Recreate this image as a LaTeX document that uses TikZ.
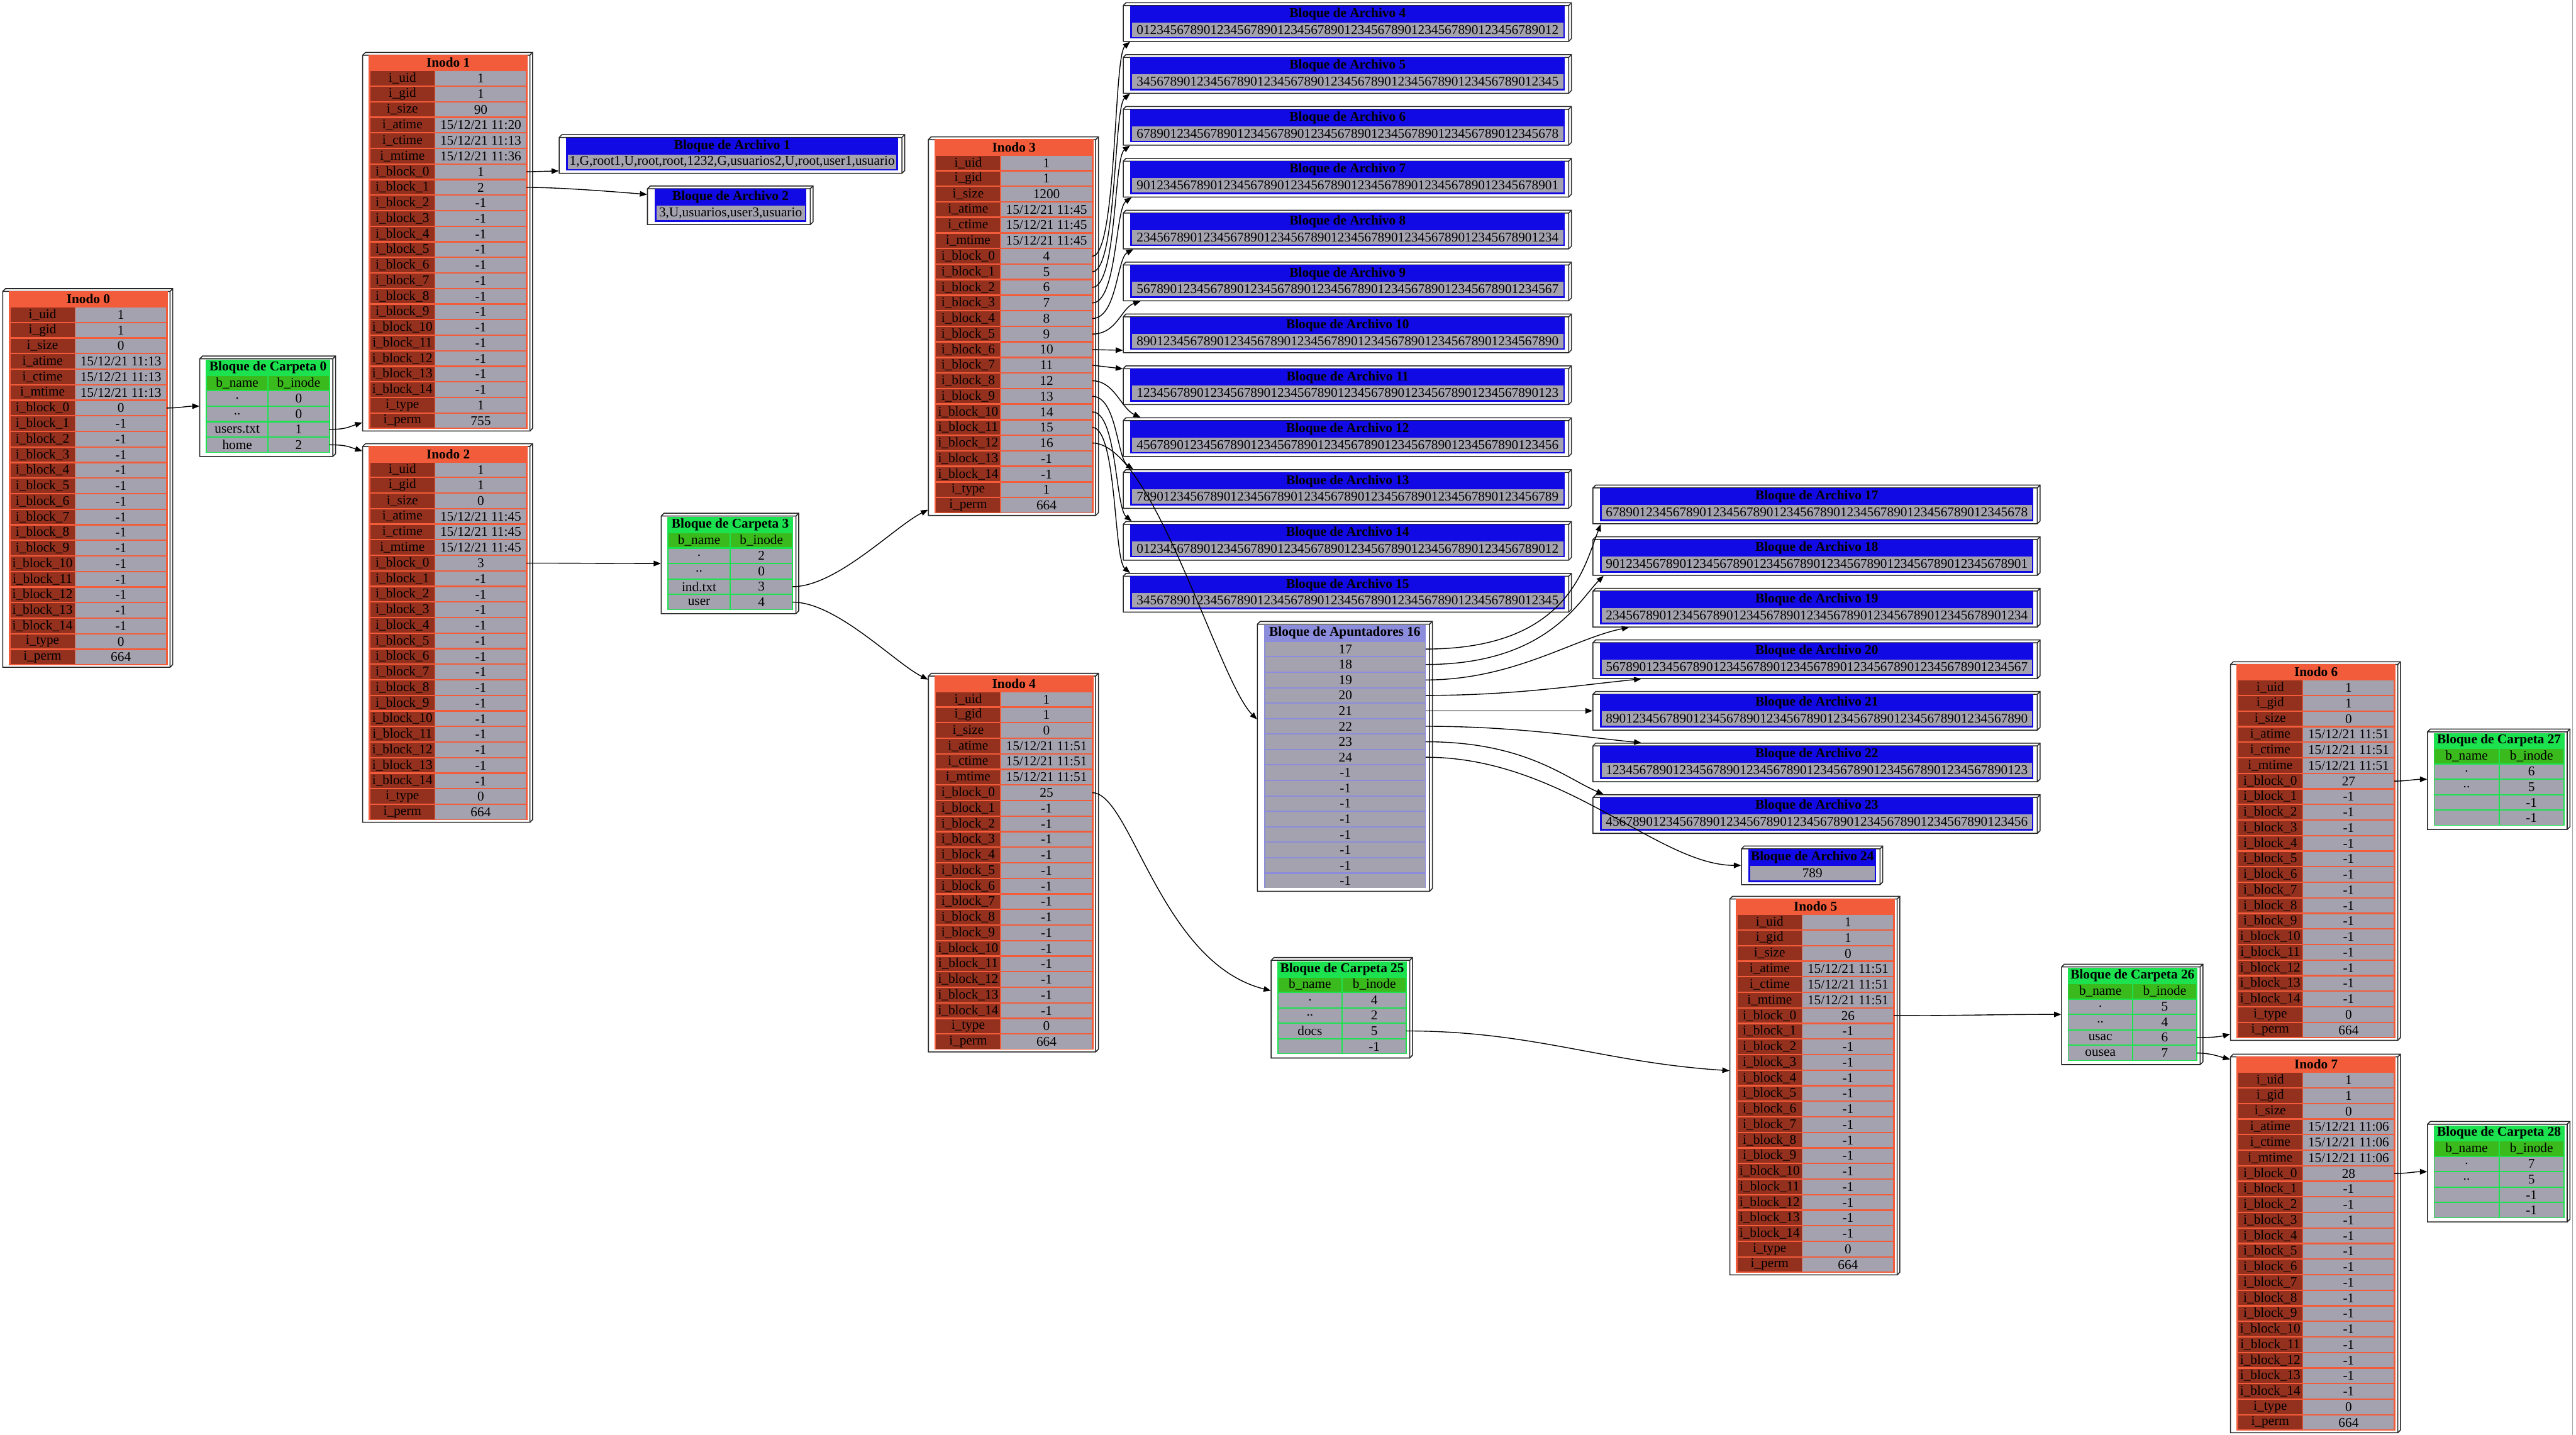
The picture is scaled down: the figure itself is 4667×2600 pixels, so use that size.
\documentclass[tikz,border=0pt]{standalone}
\usepackage{fontspec}
\setmainfont{Liberation Serif}
\usetikzlibrary{arrows.meta}
\definecolor{inor}{RGB}{242,92,58}
\definecolor{inkey}{RGB}{148,48,30}
\definecolor{cgray}{RGB}{164,162,174}
\definecolor{fgreen}{RGB}{28,226,80}
\definecolor{fhead}{RGB}{58,186,28}
\definecolor{ablue}{RGB}{18,10,228}
\definecolor{pblue}{RGB}{140,140,220}
\newcommand\tnd{0123456789}
\newcommand\dstr[1]{\ifcase#1\relax \tnd\tnd\tnd\tnd\tnd\tnd 012\or 123456789\tnd\tnd\tnd\tnd\tnd 0123\or 23456789\tnd\tnd\tnd\tnd\tnd 01234\or 3456789\tnd\tnd\tnd\tnd\tnd 012345\or 456789\tnd\tnd\tnd\tnd\tnd 0123456\or 56789\tnd\tnd\tnd\tnd\tnd 01234567\or 6789\tnd\tnd\tnd\tnd\tnd 012345678\or 789\tnd\tnd\tnd\tnd\tnd\tnd\or 89\tnd\tnd\tnd\tnd\tnd\tnd 0\or 9\tnd\tnd\tnd\tnd\tnd\tnd 01\fi}
\newcommand\inokey[1]{\ifcase#1\or i\_uid\or i\_gid\or i\_size\or i\_atime\or i\_ctime\or i\_mtime\or i\_block\_0\or i\_block\_1\or i\_block\_2\or i\_block\_3\or i\_block\_4\or i\_block\_5\or i\_block\_6\or i\_block\_7\or i\_block\_8\or i\_block\_9\or i\_block\_10\or i\_block\_11\or i\_block\_12\or i\_block\_13\or i\_block\_14\or i\_type\or i\_perm\fi}
\tikzset{
 ttl/.style={font=\fontsize{6.9}{8}\selectfont\bfseries, inner sep=0pt},
 cell/.style={draw=none, inner sep=0pt, font=\fontsize{6.9}{8}\selectfont},
 boxst/.style={draw=black!85, line width=0.5pt},
 conn/.style={draw=black, line width=0.45pt, -{Triangle[length=0.13cm,width=0.1cm]}},
}
\newcommand\threedbox[5]{%
 \node[inner sep=0pt, minimum width={(#3)*0.01cm}, minimum height={(#4)*0.01cm}] (#5) at ({#1+(#3)/2},{#2+(#4)/2}) {};
 \filldraw[boxst, fill=white] ({#1},{#2+5}) -- ({#1+5},{#2}) -- ({#1+#3},{#2}) -- ({#1+#3},{#2+#4-5}) -- ({#1+#3-5},{#2+#4}) -- ({#1},{#2+#4}) -- cycle;
 \draw[boxst] ({#1},{#2+5}) -- ({#1+#3-5},{#2+5}) -- ({#1+#3-5},{#2+#4}) ({#1+#3-5},{#2+5}) -- ({#1+#3},{#2});
}
\newcommand\drawinode[5]{%
 \threedbox{#2}{#3}{308}{686}{#1}
 \fill[inor] ({#2+11},{#3+4}) rectangle ({#2+299},{#3+682});
 \node[ttl] (#1-t) at ({#2+155},{#3+18.5}) {#4};
 \foreach \vv [count=\ii] in {#5} {
   \node[cell, fill=inkey, minimum width=1.16cm, minimum height=0.256cm] (#1-k\ii) at ({#2+72},{#3+47.1+28.2*(\ii-1)}) {\inokey{\ii}};
   \node[cell, fill=cgray, minimum width=1.64cm, minimum height=0.256cm] (#1-v\ii) at ({#2+214},{#3+47.1+28.2*(\ii-1)}) {\vv};
 }
}
\newcommand\drawfolder[6]{%
 \threedbox{#2}{#3}{#4}{182}{#1}
 \fill[fgreen] ({#2+11},{#3+7}) rectangle ({#2+#4-10},{#3+175});
 \node[ttl] (#1-t) at ({#2+#4/2+0.5},{#3+21}) {#5};
 \pgfmathsetmacro\fc{(#4-27)/2}
 \node[cell, fill=fhead, minimum width={\fc*0.01cm}, minimum height=0.256cm] (#1-hn) at ({#2+13+\fc/2},{#3+49}) {b\_name};
 \node[cell, fill=fhead, minimum width={\fc*0.01cm}, minimum height=0.256cm] (#1-hi) at ({#2+15+1.5*\fc},{#3+49}) {b\_inode};
 \foreach \nn/\vv [count=\ii] in {#6} {
   \node[cell, fill=cgray, minimum width={\fc*0.01cm}, minimum height=0.256cm] (#1-n\ii) at ({#2+13+\fc/2},{#3+49+28*\ii}) {\nn};
   \node[cell, fill=cgray, minimum width={\fc*0.01cm}, minimum height=0.256cm] (#1-r\ii) at ({#2+15+1.5*\fc},{#3+49+28*\ii}) {\vv};
 }
}
\newcommand\drawarch[6]{%
 \threedbox{#2}{#3}{#4}{70}{#1}
 \fill[ablue] ({#2+13},{#3+5}) rectangle ({#2+#4-12},{#3+65});
 \node[ttl] (#1-t) at ({#2+#4/2+0.5},{#3+20.5}) {#5};
 \node[cell, fill=cgray, minimum width={(#4-31)*0.01cm}, minimum height=0.26cm] (#1-d) at ({#2+#4/2+0.5},{#3+49}) {#6};
}
\begin{document}
\begin{tikzpicture}[x=0.01cm,y=-0.01cm]
\useasboundingbox (0,0) rectangle (4667,2600);
\fill[white] (0,0) rectangle (4667,2600);
\draw[black!35, line width=0.4pt] (4661,0) -- (4661,2600);

% Inodes
\drawinode{I0}{5}{523}{Inodo 0}{1,1,0,15/12/21 11:13,15/12/21 11:13,15/12/21 11:13,0,-1,-1,-1,-1,-1,-1,-1,-1,-1,-1,-1,-1,-1,-1,0,664}
\drawinode{I1}{657}{95}{Inodo 1}{1,1,90,15/12/21 11:20,15/12/21 11:13,15/12/21 11:36,1,2,-1,-1,-1,-1,-1,-1,-1,-1,-1,-1,-1,-1,-1,1,755}
\drawinode{I2}{657}{804}{Inodo 2}{1,1,0,15/12/21 11:45,15/12/21 11:45,15/12/21 11:45,3,-1,-1,-1,-1,-1,-1,-1,-1,-1,-1,-1,-1,-1,-1,0,664}
\drawinode{I3}{1682}{248}{Inodo 3}{1,1,1200,15/12/21 11:45,15/12/21 11:45,15/12/21 11:45,4,5,6,7,8,9,10,11,12,13,14,15,16,-1,-1,1,664}
\drawinode{I4}{1682}{1220}{Inodo 4}{1,1,0,15/12/21 11:51,15/12/21 11:51,15/12/21 11:51,25,-1,-1,-1,-1,-1,-1,-1,-1,-1,-1,-1,-1,-1,-1,0,664}
\drawinode{I5}{3134}{1624}{Inodo 5}{1,1,0,15/12/21 11:51,15/12/21 11:51,15/12/21 11:51,26,-1,-1,-1,-1,-1,-1,-1,-1,-1,-1,-1,-1,-1,-1,0,664}
\drawinode{I6}{4041}{1199}{Inodo 6}{1,1,0,15/12/21 11:51,15/12/21 11:51,15/12/21 11:51,27,-1,-1,-1,-1,-1,-1,-1,-1,-1,-1,-1,-1,-1,-1,0,664}
\drawinode{I7}{4041}{1910}{Inodo 7}{1,1,0,15/12/21 11:06,15/12/21 11:06,15/12/21 11:06,28,-1,-1,-1,-1,-1,-1,-1,-1,-1,-1,-1,-1,-1,-1,0,664}

% Folder blocks
\drawfolder{C0}{362}{645}{246}{Bloque de Carpeta 0}{./0,../0,users.txt/1,home/2}
\drawfolder{C3}{1198}{930}{249}{Bloque de Carpeta 3}{./2,../0,ind.txt/3,user/4}
\drawfolder{C25}{2303}{1735}{256}{Bloque de Carpeta 25}{./4,../2,docs/5,/-1}
\drawfolder{C26}{3735}{1747}{256}{Bloque de Carpeta 26}{./5,../4,usac/6,ousea/7}
\drawfolder{C27}{4398}{1321}{258}{Bloque de Carpeta 27}{./6,../5,/-1,/-1}
\drawfolder{C28}{4398}{2032}{258}{Bloque de Carpeta 28}{./7,../5,/-1,/-1}

% File blocks
\drawarch{A1}{1013}{244}{626}{Bloque de Archivo 1}{1,G,root1,U,root,root,1232,G,usuarios2,U,root,user1,usuario}
\drawarch{A2}{1173}{337}{300}{Bloque de Archivo 2}{3,U,usuarios,user3,usuario}
\foreach \k/\s in {4/0,5/3,6/6,7/9,8/2,9/5,10/8,11/1,12/4,13/7,14/0,15/3} {
  \drawarch{A\k}{2035}{5+94*(\k-4)}{812}{Bloque de Archivo \k}{\dstr{\s}}
}
\foreach \k/\s in {17/6,18/9,19/2,20/5,21/8,22/1,23/4} {
  \drawarch{A\k}{2886}{879+93.5*(\k-17)}{810}{Bloque de Archivo \k}{\dstr{\s}}
}
\drawarch{A24}{3155}{1533}{256}{Bloque de Archivo 24}{789}

% Pointer block
\threedbox{2278}{1126}{317}{489}{P16}
\fill[pblue] (2290,1132) rectangle (2583,1609);
\node[ttl] (P16-t) at (2436.5,1147) {Bloque de Apuntadores 16};
\foreach \vv [count=\ii] in {17,18,19,20,21,22,23,24,-1,-1,-1,-1,-1,-1,-1,-1} {
  \node[cell, fill=cgray, minimum width=2.89cm, minimum height=0.256cm] (P16-r\ii) at (2437.5,{1148+28*\ii}) {\vv};
}

% Connectors
\draw[conn] (I0-v7.east) to[out=0,in=180] (C0.west);
\draw[conn] (C0-r3.east) .. controls +(30,0) and +(-25,8) .. ([yshift=0.16cm]I1.south west);
\draw[conn] (C0-r4.east) .. controls +(30,0) and +(-25,-8) .. ([yshift=-0.14cm]I2.north west);
\draw[conn] (I1-v7.east) -- ([yshift=0.05cm]A1.south west);
\draw[conn] (I1-v8.east) .. controls +(60,0) and +(-60,-5) .. ([yshift=-0.16cm]A2.north west);
\draw[conn] (I2-v7.east) to[out=0,in=180] (C3.west);
\draw[conn] (C3-r3.east) .. controls +(80,0) and +(-60,30) .. ([yshift=0.11cm]I3.south west);
\draw[conn] (C3-r4.east) .. controls +(80,0) and +(-60,-30) .. ([yshift=-0.12cm]I4.north west);

\draw[conn] (I3-v7.east) .. controls +(45,0) and +(-30,26) .. ([xshift=0.13cm]A4.south west);
\draw[conn] (I3-v8.east) .. controls +(45,0) and +(-30,24) .. ([xshift=0.13cm]A5.south west);
\draw[conn] (I3-v9.east) .. controls +(45,0) and +(-30,22) .. ([xshift=0.13cm]A6.south west);
\draw[conn] (I3-v10.east) .. controls +(45,0) and +(-30,20) .. ([xshift=0.16cm]A7.south west);
\draw[conn] (I3-v11.east) .. controls +(45,0) and +(-30,16) .. ([xshift=0.19cm]A8.south west);
\draw[conn] (I3-v12.east) .. controls +(45,0) and +(-35,12) .. ([xshift=0.32cm]A9.south west);
\draw[conn] (I3-v13.east) -- ([yshift=0.05cm]A10.south west);
\draw[conn] (I3-v14.east) -- ([yshift=-0.06cm]A11.north west);
\draw[conn] (I3-v15.east) .. controls +(40,0) and +(-35,-16) .. ([xshift=0.32cm]A12.north west);
\draw[conn] (I3-v16.east) .. controls +(45,0) and +(-30,-20) .. ([xshift=0.19cm]A13.north west);
\draw[conn] (I3-v17.east) .. controls +(45,0) and +(-30,-24) .. ([xshift=0.16cm]A14.north west);
\draw[conn] (I3-v18.east) .. controls +(45,0) and +(-30,-26) .. ([xshift=0.13cm]A15.north west);
\draw[conn] (I3-v19.east) .. controls +(110,0) and +(-70,-70) .. ([yshift=0.67cm]P16.west);

\draw[conn] (P16-r1.east) .. controls +(260,0) and +(-30,75) .. ([xshift=0.15cm]A17.south west);
\draw[conn] (P16-r2.east) .. controls +(220,0) and +(-45,45) .. ([xshift=0.2cm]A18.south west);
\draw[conn] (P16-r3.east) .. controls +(160,0) and +(-100,20) .. ([xshift=0.66cm]A19.south west);
\draw[conn] (P16-r4.east) .. controls +(160,0) and +(-120,12) .. ([xshift=0.88cm]A20.south west);
\draw[conn] (P16-r5.east) -- (A21.west);
\draw[conn] (P16-r6.east) .. controls +(160,0) and +(-120,-12) .. ([xshift=0.88cm]A22.north west);
\draw[conn] (P16-r7.east) .. controls +(180,0) and +(-70,-30) .. ([xshift=0.2cm]A23.north west);
\draw[conn] (P16-r8.east) .. controls +(250,0) and +(-150,0) .. (A24.west);

\draw[conn] (I4-v7.east) .. controls +(70,0) and +(-200,-50) .. ([yshift=0.31cm]C25.west);
\draw[conn] (C25-r3.east) .. controls +(230,0) and +(-230,-15) .. ([yshift=0.27cm]I5.west);
\draw[conn] (I5-v7.east) to[out=0,in=180] (C26.west);
\draw[conn] (C26-r3.east) .. controls +(25,0) and +(-20,5) .. ([yshift=0.12cm]I6.south west);
\draw[conn] (C26-r4.east) .. controls +(25,0) and +(-20,-5) .. ([yshift=-0.1cm]I7.north west);
\draw[conn] (I6-v7.east) to[out=0,in=180] (C27.west);
\draw[conn] (I7-v7.east) to[out=0,in=180] (C28.west);
\end{tikzpicture}
\end{document}
